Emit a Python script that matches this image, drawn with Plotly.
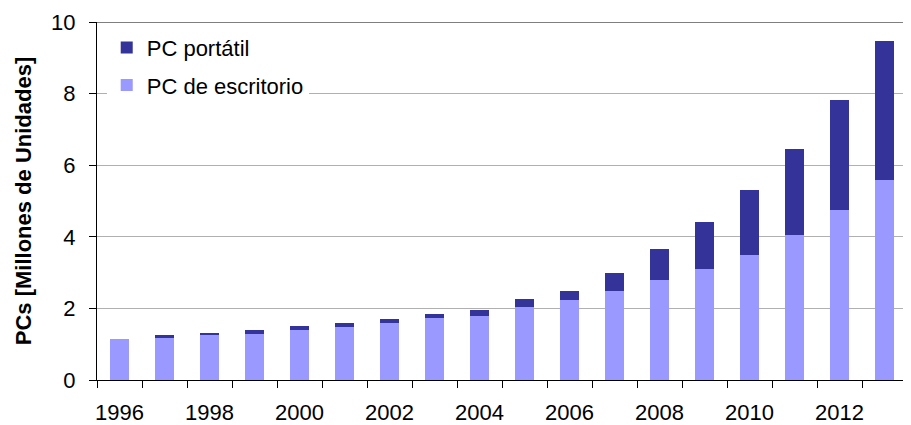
import plotly.graph_objects as go

years = list(range(1996, 2014))
escritorio = [1.14, 1.20, 1.25, 1.28, 1.39, 1.48, 1.59, 1.73, 1.78, 2.04, 2.23, 2.48, 2.79, 3.10, 3.49, 4.05, 4.75, 5.59]
total = [1.14, 1.25, 1.31, 1.39, 1.50, 1.59, 1.70, 1.84, 1.95, 2.26, 2.48, 2.99, 3.66, 4.42, 5.31, 6.44, 7.81, 9.46]
portatil = [round(t - e, 2) for t, e in zip(total, escritorio)]
x_labels = [str(y) for y in range(1996, 2014, 2)]
y_ticks = [0, 2, 4, 6, 8, 10]

font = "Liberation Sans, Arial, sans-serif"

fig = go.Figure()
fig.add_trace(go.Bar(x=years, y=escritorio, name="PC de escritorio", legendgroup="a", legendrank=2,
                     marker=dict(color="#9999FF", line=dict(width=0)), width=0.42))
fig.add_trace(go.Bar(x=years, y=portatil, name="PC portátil", legendgroup="b", legendrank=1,
                     marker=dict(color="#333399", line=dict(width=0)), width=0.42))

fig.update_layout(
    width=903, height=417,
    barmode="stack",
    plot_bgcolor="white", paper_bgcolor="white",
    margin=dict(l=89, r=4, t=14, b=45),
    font=dict(family=font, size=22, color="black"),
    showlegend=True,
    legend=dict(x=0.012, y=0.987, xanchor="left", yanchor="top",
                traceorder="grouped", bgcolor="white",
                font=dict(family=font, size=22, color="black"),
                itemwidth=30, tracegroupgap=6),
    xaxis=dict(
        range=[1995.5, 2013.5],
        automargin=False,
        tickmode="array",
        tickvals=[int(v) for v in x_labels],
        ticktext=x_labels,
        ticks="", ticklen=0,
        showgrid=False, zeroline=False,
        showline=True, linecolor="black", linewidth=1,
        tickfont=dict(family=font, size=22, color="black"),
        ticklabelstandoff=13,
        minor=dict(tickmode="array", tickvals=[y - 0.5 for y in years] + [2013.5],
                   ticks="outside", ticklen=7, tickcolor="black", showgrid=False),
    ),
    yaxis=dict(
        range=[0, 10],
        automargin=False,
        tickmode="array", tickvals=y_ticks,
        ticks="outside", ticklen=16, tickcolor="rgba(0,0,0,0)",
        showgrid=True, gridcolor="#b0b0b0", gridwidth=1,
        zeroline=False,
        showline=True, linecolor="black", linewidth=1,
        tickfont=dict(family=font, size=22, color="black"),
        minor=dict(tickmode="array", tickvals=y_ticks, ticks="outside", ticklen=7,
                   tickcolor="black", showgrid=False),
        title=dict(text="<b>PCs [Millones de Unidades]</b>",
                   font=dict(family=font, size=22, color="black"), standoff=13),
    ),
    shapes=[dict(type="line", xref="paper", yref="y", x0=0, x1=1, y0=10, y1=10,
                 line=dict(color="black", width=1))],
)

fig.write_html("out.html")
